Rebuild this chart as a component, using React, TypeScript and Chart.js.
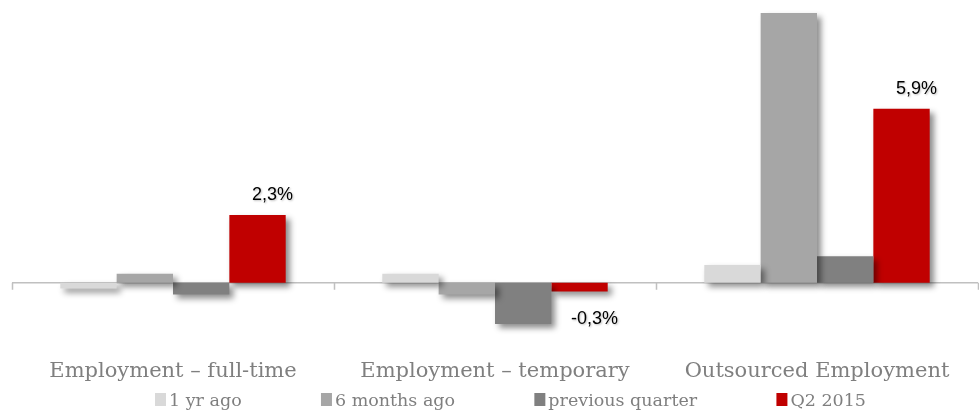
import React, { useEffect, useRef } from "react";
import { Chart, registerables } from "chart.js";

Chart.register(...registerables);

const categories = ["Employment – full-time", "Employment – temporary", "Outsourced Employment"];
const seriesNames = ["1 yr ago", "6 months ago", "previous quarter", "Q2 2015"];
const yrAgo = [-0.2, 0.3, 0.6];
const sixMonthsAgo = [0.3, -0.4, 9.15];
const previousQuarter = [-0.4, -1.4, 0.9];
const q2_2015 = [2.3, -0.3, 5.9];
const q2Labels = ["2,3%", "-0,3%", "5,9%"];
const seriesColors = ["#d9d9d9", "#a6a6a6", "#808080", "#c00000"];

const SERIF = "'DejaVu Serif', serif";

const shadowPlugin = {
  id: "barShadow",
  beforeDatasetsDraw(chart: any) {
    const { ctx, chartArea, scales } = chart;
    const y0 = scales.y.getPixelForValue(0);
    ctx.save();
    ctx.strokeStyle = "#c0c0c0";
    ctx.lineWidth = 1.5;
    ctx.beginPath();
    ctx.moveTo(chartArea.left, y0);
    ctx.lineTo(chartArea.right, y0);
    const n = categories.length;
    const w = (chartArea.right - chartArea.left) / n;
    for (let i = 0; i <= n; i++) {
      const x = Math.round(chartArea.left + i * w) + 0.5;
      ctx.moveTo(x, y0);
      ctx.lineTo(x, y0 + 7);
    }
    ctx.stroke();
    ctx.restore();
    ctx.save();
    ctx.shadowColor = "rgba(0,0,0,0.45)";
    ctx.shadowBlur = 6;
    ctx.shadowOffsetX = 4;
    ctx.shadowOffsetY = 4;
  },
  afterDatasetsDraw(chart: any) {
    chart.ctx.restore();
  },
};

const labelPlugin = {
  id: "q2Labels",
  afterDraw(chart: any) {
    const { ctx } = chart;
    const meta = chart.getDatasetMeta(3);
    ctx.save();
    ctx.font = "18px 'Liberation Sans', Arial, sans-serif";
    ctx.fillStyle = "#000000";
    ctx.textAlign = "center";
    ctx.textBaseline = "middle";
    ctx.shadowColor = "rgba(0,0,0,0.25)";
    ctx.shadowBlur = 2;
    ctx.shadowOffsetX = 1;
    ctx.shadowOffsetY = 1;
    meta.data.forEach((bar: any, i: number) => {
      const v = q2_2015[i];
      const x = bar.x + 15;
      const y = v >= 0 ? bar.y - 20 : bar.y + 27;
      ctx.fillText(q2Labels[i], x, y);
    });
    ctx.restore();

    // legend
    ctx.save();
    ctx.font = "17.5px " + SERIF;
    ctx.textBaseline = "alphabetic";
    ctx.textAlign = "left";
    const boxW = 11;
    const boxH = 13;
    const textOff = 14;
    const widths = seriesNames.map((s) => textOff + ctx.measureText(s).width);
    const startX = 155;
    const endX = 866;
    const total = widths.reduce((a, b) => a + b, 0);
    const gap = (endX - startX - total) / (seriesNames.length - 1);
    let x = startX;
    seriesNames.forEach((name, i) => {
      ctx.fillStyle = seriesColors[i];
      ctx.fillRect(x, 393, boxW, boxH);
      ctx.fillStyle = "#7f7f7f";
      ctx.fillText(name, x + textOff, 406);
      x += widths[i] + gap;
    });
    ctx.restore();
  },
};

export default function App() {
  const ref = useRef<HTMLCanvasElement | null>(null);
  useEffect(() => {
    if (!ref.current) return;
    const series = [yrAgo, sixMonthsAgo, previousQuarter, q2_2015];
    const chart = new Chart(ref.current, {
      type: "bar",
      data: {
        labels: categories,
        datasets: series.map((d, i) => ({
          label: seriesNames[i],
          data: d,
          backgroundColor: seriesColors[i],
          borderWidth: 0,
          categoryPercentage: 0.7,
          barPercentage: 1.0,
        })),
      },
      options: {
        animation: false,
        responsive: true,
        maintainAspectRatio: false,
        layout: { padding: { left: 12, right: 1, top: 7, bottom: 10 } },
        plugins: {
          legend: { display: false },
          tooltip: { enabled: false },
        },
        scales: {
          x: {
            grid: { display: false, drawTicks: false },
            border: { display: false },
            ticks: {
              padding: 23,
              color: "#7f7f7f",
              font: { family: SERIF, size: 21 },
              maxRotation: 0,
              autoSkip: false,
            },
          },
          y: {
            display: false,
            min: -1.8,
            max: 9.35,
          },
        },
      },
      plugins: [shadowPlugin, labelPlugin],
    });
    return () => chart.destroy();
  }, []);
  return (
    <div style={{ position: "fixed", left: 0, top: 0, width: 979, height: 417, background: "#ffffff" }}>
      <canvas ref={ref} />
    </div>
  );
}
